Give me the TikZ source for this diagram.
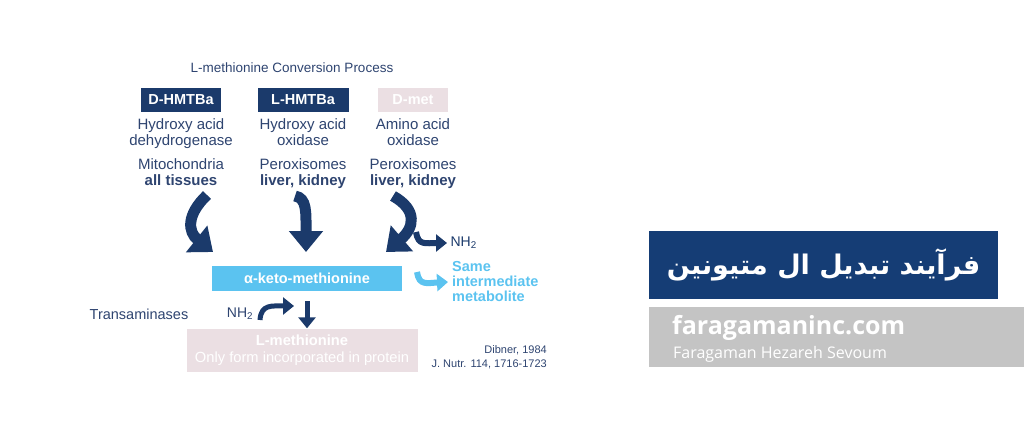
\documentclass[tikz,border=0pt]{standalone}
\usepackage{fontspec}
\setmainfont{Liberation Sans}
\newfontfamily\arabicfont[Script=Arabic]{DejaVu Sans}
\newfontfamily\sitefont{Open Sans}
\TeXXeTstate=1
\usetikzlibrary{positioning}
\usetikzlibrary{arrows.meta}
\definecolor{navy}{HTML}{1B3A6B}
\definecolor{txt}{HTML}{2E4470}
\definecolor{sky}{HTML}{5BC3F0}
\definecolor{pinkbox}{HTML}{EBDFE3}
\definecolor{pbox}{HTML}{153D75}
\definecolor{greybox}{HTML}{C4C4C4}
\tikzset{
  enzbox/.style={fill=navy, text=white, font=\bfseries\fontsize{14.5}{16}\selectfont, minimum height=24pt, inner sep=0pt},
  info/.style={text=txt, align=center, font=\fontsize{15}{16}\selectfont, inner sep=0pt},
  bigarrow/.style={draw=navy, line width=11pt, -{Triangle[width=33pt,length=21pt]}},
  smallarrow/.style={draw=navy, line width=6pt, -{Triangle[width=17pt,length=11pt]}}
}
\begin{document}
\begin{tikzpicture}[x=1pt,y=-1pt]
            \useasboundingbox (0,0) rectangle (1024,442);
            \node(title) [text=txt, font=\fontsize{13.5}{15}\selectfont] at (292,68) {L-methionine Conversion Process};
            \node(dh) [enzbox, minimum width=80pt] at (181,100) {D-HMTBa};
            \node(lh) [enzbox, minimum width=91pt] at (303,100) {L-HMTBa};
            \node(dm) [enzbox, fill=pinkbox, minimum width=70pt] at (413,100) {D-met};
            \node(dhenz) [info, below=6pt of dh] {Hydroxy acid\\dehydrogenase};
            \node(lhenz) [info, below=6pt of lh] {Hydroxy acid\\oxidase};
            \node(dmenz) [info, below=6pt of dm] {Amino acid\\oxidase};
            \node(dhloc) [info, anchor=north] at (181,158) {Mitochondria\\\textbf{all tissues}};
            \node(lhloc) [info, anchor=north] at (303,158) {Peroxisomes\\\textbf{liver, kidney}};
            \node(dmloc) [info, anchor=north] at (413,158) {Peroxisomes\\\textbf{liver, kidney}};

            \node(keto) [fill=sky, text=white, font=\bfseries\fontsize{14.5}{15}\selectfont, minimum width=190pt, minimum height=25pt, inner sep=0pt] at (307,278) {α-keto-methionine};
            \coordinate(a1s) at (207,195);
            \coordinate(a1e) at (213,252);
            \coordinate(a2s) at (295,196);
            \coordinate(a2e) at (306,252);
            \coordinate(a3s) at (393,196);
            \coordinate(a3e) at (386,252);
            \draw[bigarrow] (a1s) .. controls (186,215) and (188,232) .. (a1e);
            \draw[bigarrow] (a2s) .. controls (307,198) and (306,212) .. (a2e);
            \draw[bigarrow] (a3s) .. controls (418,210) and (414,228) .. (a3e);

            \node(nh) [text=navy, font=\fontsize{14}{15}\selectfont, anchor=west] at (447,243) {NH\textsubscript{2}};
            \coordinate(nhs) at (416,232);
            \draw[smallarrow] (nhs) .. controls (418,246) and (426,243) .. (nh.west);
            \node(same) [text=sky, font=\bfseries\fontsize{14.5}{15}\selectfont, align=left, anchor=west, inner sep=0pt] at (452,282) {Same\\intermediate\\metabolite};
            \coordinate(ss) at (417,272);
            \draw[smallarrow, draw=sky] (ss) .. controls (419,286) and (427,283) .. ([xshift=-4pt]same.west);

            \node(trans) [text=txt, font=\fontsize{14.5}{15}\selectfont] at (139,314) {Transaminases};
            \node(nh2) [text=txt, font=\fontsize{14}{15}\selectfont] at (240,314) {NH\textsubscript{2}};
            \node(lmet) [fill=pinkbox, text=white, font=\fontsize{14.7}{17}\selectfont, align=center, minimum width=231pt, minimum height=43pt, inner sep=0pt] at (302,350) {\textbf{L-methionine}\\Only form incorporated in protein};
            \coordinate(ts) at (260,320);
            \coordinate(te) at (294,306);
            \coordinate(ds) at (307,301);
            \draw[smallarrow, line width=5pt] (ts) .. controls (261,304) and (272,306) .. (te);
            \draw[smallarrow, line width=5pt] (ds) -- (lmet.north -| ds);

            \node(ref) [text=txt, font=\fontsize{11}{14}\selectfont, align=right, anchor=east, inner sep=0pt] at (547,357) {Dibner, 1984\\J. Nutr. 114, 1716-1723};

            \node(fa) [fill=pbox, text=white, minimum width=349pt, minimum height=68pt, inner sep=0pt] at (823.5,265) {\arabicfont\bfseries\fontsize{27}{32}\selectfont\beginR فرآیند تبدیل ال متیونین\endR};
            \node(site) [fill=greybox, minimum width=375pt, minimum height=60pt, inner sep=0pt] at (836.5,337) {};
            \node(url) [text=white, font=\sitefont\bfseries\fontsize{25}{30}\selectfont, anchor=west, inner sep=0pt] at (672,328) {faragamaninc.com};
            \node(firm) [text=white, font=\sitefont\fontsize{16}{18}\selectfont, anchor=west, inner sep=0pt] at (673,354) {Faragaman Hezareh Sevoum};
        \end{tikzpicture}
\end{document}
